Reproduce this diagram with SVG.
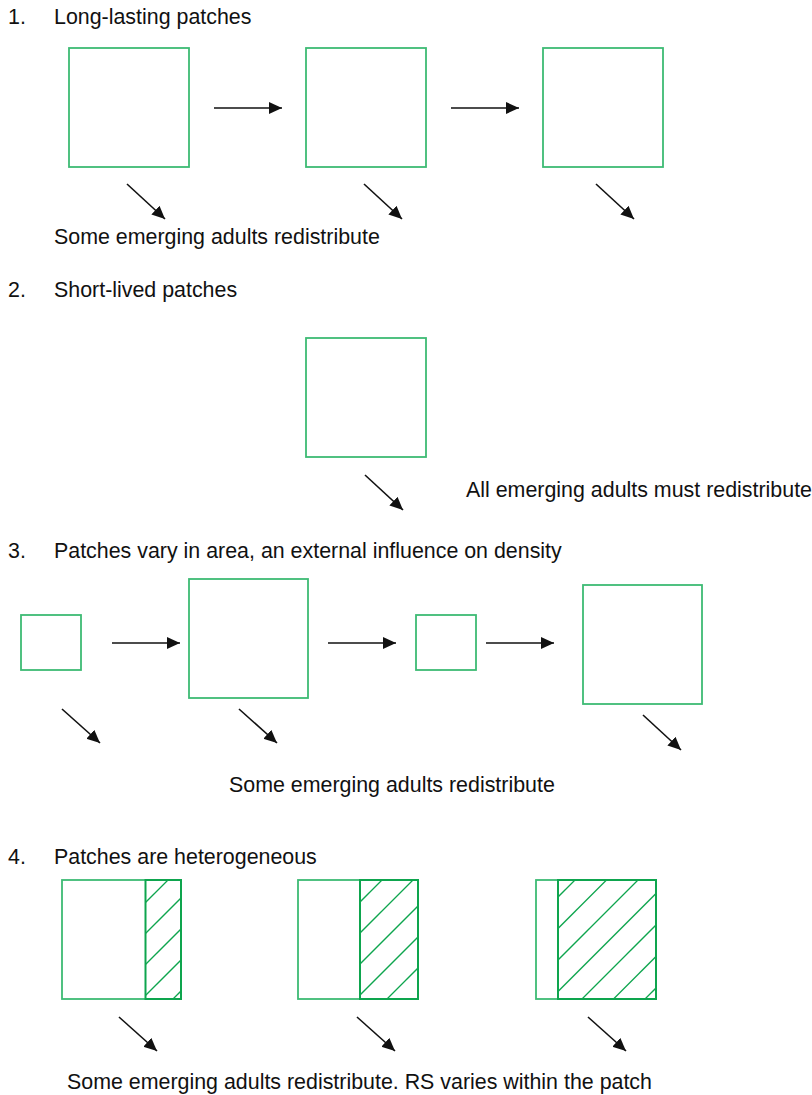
<svg xmlns="http://www.w3.org/2000/svg" width="812" height="1095" viewBox="0 0 812 1095">
  <style>
    .patch { fill: #ffffff; stroke: #3dbb74; stroke-width: 1.8; }
    .hatched { fill: none; stroke: #0ea54e; stroke-width: 2; }
    .hatch { stroke: #0ea54e; stroke-width: 1.3; }
    .arrow { stroke: #111111; stroke-width: 1.6; fill: none; marker-end: url(#head); }
    text { font-family: "Liberation Sans", Arial, Helvetica, sans-serif; font-size: 21.4px; fill: #111111; }
  </style>
  <defs>
    <marker id="head" markerUnits="userSpaceOnUse" markerWidth="14" markerHeight="13" refX="13" refY="6" orient="auto">
      <path d="M0,0 L13,6 L0,12 Z" fill="#111111"/>
    </marker>
    <clipPath id="clip-h1"><rect x="145.5" y="880" width="35.5" height="119"/></clipPath>
    <clipPath id="clip-h2"><rect x="360" y="880" width="58" height="119"/></clipPath>
    <clipPath id="clip-h3"><rect x="558" y="880" width="98" height="119"/></clipPath>
  </defs>
  <rect width="812" height="1095" fill="#ffffff"/>

  <!-- headings and captions -->
  <g id="labels">
    <text x="8" y="24">1.</text>
    <text x="54" y="24">Long-lasting patches</text>
    <text x="54" y="244">Some emerging adults redistribute</text>
    <text x="8" y="297">2.</text>
    <text x="54" y="297">Short-lived patches</text>
    <text x="466" y="497">All emerging adults must redistribute</text>
    <text x="8" y="558">3.</text>
    <text x="54" y="558">Patches vary in area, an external influence on density</text>
    <text x="229" y="792">Some emerging adults redistribute</text>
    <text x="8" y="864">4.</text>
    <text x="54" y="864">Patches are heterogeneous</text>
    <text x="67" y="1089">Some emerging adults redistribute. RS varies within the patch</text>
  </g>

  <!-- 1. long-lasting patches -->
  <g id="p1a"><rect class="patch" x="69" y="48" width="120" height="119"/></g>
  <g id="p1b"><rect class="patch" x="306" y="48" width="120" height="119"/></g>
  <g id="p1c"><rect class="patch" x="543" y="48" width="120" height="119"/></g>

  <!-- 2. short-lived patch -->
  <g id="p2"><rect class="patch" x="306" y="338" width="120" height="119"/></g>

  <!-- 3. patches of varying area -->
  <g id="p3a"><rect class="patch" x="21" y="615" width="60" height="55"/></g>
  <g id="p3b"><rect class="patch" x="189" y="579" width="119" height="119"/></g>
  <g id="p3c"><rect class="patch" x="416" y="615" width="60" height="55"/></g>
  <g id="p3d"><rect class="patch" x="583" y="585" width="119" height="119"/></g>

  <!-- 4. heterogeneous patches: plain part plus hatched part -->
  <g id="p4a">
    <rect class="patch" x="62" y="880" width="119" height="119"/>
    <g clip-path="url(#clip-h1)">
      <line class="hatch" x1="145" y1="903" x2="200" y2="848"/>
      <line class="hatch" x1="145" y1="934" x2="200" y2="879"/>
      <line class="hatch" x1="145" y1="965" x2="200" y2="910"/>
      <line class="hatch" x1="145" y1="996" x2="200" y2="941"/>
      <line class="hatch" x1="145" y1="1027" x2="200" y2="972"/>
    </g>
    <rect class="hatched" x="145.5" y="880" width="35.5" height="119"/>
  </g>
  <g id="p4b">
    <rect class="patch" x="298" y="880" width="120" height="119"/>
    <g clip-path="url(#clip-h2)">
      <line class="hatch" x1="350" y1="912" x2="430" y2="832"/>
      <line class="hatch" x1="350" y1="943" x2="430" y2="863"/>
      <line class="hatch" x1="350" y1="974" x2="430" y2="894"/>
      <line class="hatch" x1="350" y1="1005" x2="430" y2="925"/>
      <line class="hatch" x1="350" y1="1036" x2="430" y2="956"/>
    </g>
    <rect class="hatched" x="360" y="880" width="58" height="119"/>
  </g>
  <g id="p4c">
    <rect class="patch" x="536" y="880" width="120" height="119"/>
    <g clip-path="url(#clip-h3)">
      <line class="hatch" x1="550" y1="905" x2="670" y2="785"/>
      <line class="hatch" x1="550" y1="936.5" x2="670" y2="816.5"/>
      <line class="hatch" x1="550" y1="968" x2="670" y2="848"/>
      <line class="hatch" x1="550" y1="999.5" x2="670" y2="879.5"/>
      <line class="hatch" x1="550" y1="1031" x2="670" y2="911"/>
      <line class="hatch" x1="550" y1="1062.5" x2="670" y2="942.5"/>
      <line class="hatch" x1="550" y1="1094" x2="670" y2="974"/>
    </g>
    <rect class="hatched" x="558" y="880" width="98" height="119"/>
  </g>

  <!-- connectors -->
  <g id="connectors">
    <line class="arrow" x1="214" y1="108" x2="282" y2="108"/>
    <line class="arrow" x1="451" y1="108" x2="519" y2="108"/>
    <line class="arrow" x1="127" y1="184" x2="165" y2="219"/>
    <line class="arrow" x1="364" y1="184" x2="402" y2="219"/>
    <line class="arrow" x1="596" y1="184" x2="634" y2="219"/>

    <line class="arrow" x1="365" y1="475" x2="403" y2="510"/>

    <line class="arrow" x1="112" y1="643" x2="180" y2="643"/>
    <line class="arrow" x1="328" y1="643" x2="396" y2="643"/>
    <line class="arrow" x1="486" y1="643" x2="554" y2="643"/>
    <line class="arrow" x1="62" y1="709" x2="100" y2="743"/>
    <line class="arrow" x1="239" y1="709" x2="277" y2="743"/>
    <line class="arrow" x1="643" y1="715" x2="681" y2="750"/>

    <line class="arrow" x1="119" y1="1017" x2="157" y2="1051"/>
    <line class="arrow" x1="357" y1="1017" x2="395" y2="1051"/>
    <line class="arrow" x1="588" y1="1017" x2="626" y2="1051"/>
  </g>
</svg>
